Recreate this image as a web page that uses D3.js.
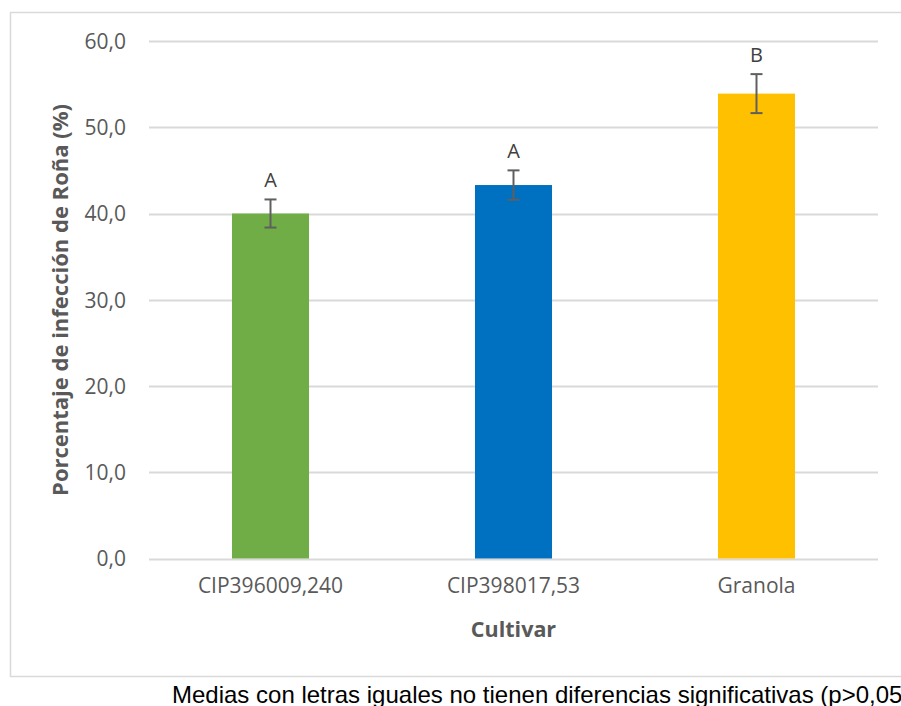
<!DOCTYPE html>
<html><head><meta charset="utf-8">
<script src="https://cdn.jsdelivr.net/npm/d3@7"></script>
<style>body{margin:0;background:#fff;overflow:hidden}svg{display:block}</style>
</head><body>
<script>
const categories = ["CIP396009,240", "CIP398017,53", "Granola"];
const values = [40.0, 43.3, 53.9];
const errors = [1.63, 1.7, 2.26];
const letters = ["A", "A", "B"];
const colors = ["#70ad47", "#0070c0", "#ffc000"];
const yTicks = [0, 10, 20, 30, 40, 50, 60];

const W = 901, H = 706;
const svg = d3.select("body").append("svg").attr("width", W).attr("height", H);
svg.append("rect").attr("x", 10.5).attr("y", 12.5).attr("width", 950).attr("height", 664)
  .attr("fill", "#fff").attr("stroke", "#d9d9d9").attr("stroke-width", 1.5);

const x = d3.scaleBand().domain(categories).range([149, 878]).paddingInner(0.683).paddingOuter(0.3415);
const y = d3.scaleLinear().domain([0, 60]).range([558.5, 41]);
const fmt = d => d3.format(".1f")(d).replace(".", ",");
const font = "'Open Sans', 'Noto Sans', sans-serif";

// gridlines
svg.append("g").selectAll("line").data(yTicks).join("line")
  .attr("x1", 149).attr("x2", 878).attr("y1", d => Math.round(y(d)) + 0.5).attr("y2", d => Math.round(y(d)) + 0.5)
  .attr("stroke", "#d9d9d9").attr("stroke-width", 2);

// y axis labels
const yAxis = d3.axisLeft(y).tickValues(yTicks).tickFormat(fmt).tickSize(0).tickPadding(0);
const gy = svg.append("g").attr("transform", "translate(126,0)").call(yAxis);
gy.select(".domain").remove();
gy.selectAll("text").attr("font-family", font).attr("font-size", 21).attr("fill", "#595959").attr("dy", "0.35em");

// x axis labels
const xAxis = d3.axisBottom(x).tickSize(0).tickPadding(0);
const gx = svg.append("g").attr("transform", "translate(0,578)").call(xAxis);
gx.select(".domain").remove();
gx.selectAll("text").attr("font-family", font).attr("font-size", 21).attr("fill", "#595959").attr("dy", "0.71em");

// bars
svg.append("g").selectAll("rect").data(categories).join("rect")
  .attr("x", d => x(d)).attr("width", x.bandwidth())
  .attr("y", (d, i) => y(values[i])).attr("height", (d, i) => y(0) - y(values[i]))
  .attr("fill", (d, i) => colors[i]);

// error bars
const eb = svg.append("g").attr("stroke", "#5f5f5f").attr("stroke-width", 2);
categories.forEach((c, i) => {
  const cx = x(c) + x.bandwidth() / 2;
  const t = y(values[i] + errors[i]), b = y(values[i] - errors[i]);
  eb.append("line").attr("x1", cx).attr("x2", cx).attr("y1", t).attr("y2", b);
  eb.append("line").attr("x1", cx - 6).attr("x2", cx + 6).attr("y1", t).attr("y2", t);
  eb.append("line").attr("x1", cx - 6).attr("x2", cx + 6).attr("y1", b).attr("y2", b);
});

// letters
svg.append("g").selectAll("text").data(categories).join("text")
  .attr("x", d => x(d) + x.bandwidth() / 2)
  .attr("y", (d, i) => y(values[i] + errors[i]) - 12)
  .attr("text-anchor", "middle").attr("font-family", font).attr("font-size", 20).attr("fill", "#404040")
  .text((d, i) => letters[i]);

// axis titles
svg.append("text").attr("transform", "translate(68,300) rotate(-90)")
  .attr("text-anchor", "middle").attr("font-family", font).attr("font-size", 22).attr("font-weight", "bold")
  .attr("fill", "#595959").text("Porcentaje de infección de Roña (%)");
svg.append("text").attr("x", 513.5).attr("y", 637)
  .attr("text-anchor", "middle").attr("font-family", font).attr("font-size", 21.5).attr("font-weight", "bold")
  .attr("fill", "#595959").text("Cultivar");

// footnote
svg.append("text").attr("x", 172).attr("y", 703)
  .attr("font-family", "'Liberation Sans', Arial, sans-serif").attr("font-size", 24)
  .attr("fill", "#000").text("Medias con letras iguales no tienen diferencias significativas (p>0,05)");
</script>
</body></html>
